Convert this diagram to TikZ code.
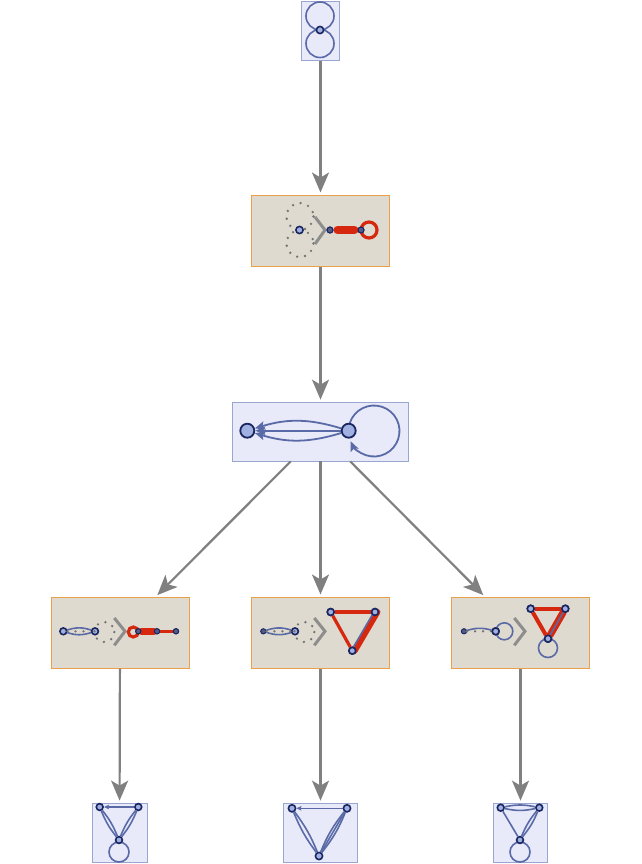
\documentclass[tikz,border=0pt]{standalone}
\usepackage{tikz}
\usetikzlibrary{arrows.meta}

\definecolor{paleblue}{HTML}{E8EAFA}
\definecolor{paleedge}{HTML}{9AA6D2}
\definecolor{sand}{HTML}{DEDACF}
\definecolor{sandedge}{HTML}{E8A04C}
\definecolor{wireblue}{HTML}{5A6AA6}
\definecolor{vtxfill}{HTML}{A0B0E0}
\definecolor{vtxedge}{HTML}{1A2660}
\definecolor{cutred}{HTML}{D6280F}
\definecolor{flowgray}{HTML}{808080}

\tikzset{
	graphbox/.style={rectangle, draw=paleedge, fill=paleblue, line width=0.4pt, inner sep=0pt, minimum height=29.5pt},
	cutbox/.style={rectangle, draw=sandedge, fill=sand, line width=0.5pt, inner sep=0pt, minimum width=69pt, minimum height=35.5pt},
	flow/.style={draw=flowgray, line width=1.1pt, shorten >=1pt, -{Stealth[length=10pt, width=8.5pt, inset=2.5pt]}},
	vtx/.style={circle, draw=vtxedge, fill=vtxfill, line width=0.8pt, inner sep=0pt, minimum size=3.4pt},
	bigvtx/.style={vtx, line width=0.9pt, minimum size=7pt},
	tinyvtx/.style={vtx, fill=vtxedge!75, line width=0.5pt, minimum size=2.6pt},
	wire/.style={draw=wireblue, line width=0.8pt},
	wirearrow/.style={wire, -{Stealth[length=2.5pt, width=2.2pt, inset=0.4pt]}},
	midarrow/.style={wire, line width=0.9pt, -{Stealth[length=5pt, width=4.2pt, inset=1pt]}},
	dotwire/.style={draw=black!55, line width=1.3pt, line cap=round, dash pattern=on 0pt off 4pt},
	redwire/.style={draw=cutred, line width=1.6pt},
	redbar/.style={draw=cutred, line width=3.5pt, line cap=round},
	chevron/.style={draw=flowgray!90, line width=1.5pt}
}

\begin{document}
\begin{tikzpicture}[x=0.5pt, y=-0.5pt]
	%%%%% START %%%%%
	\useasboundingbox (0, 0) rectangle (642, 864);
	
	% boxes
	\node[graphbox, minimum width=19pt] (startbox) at (320.5, 31) {};
	\node[cutbox] (stepbox) at (320.5, 230.5) {};
	\node[graphbox, minimum width=88pt] (midbox) at (320.5, 431.5) {};
	\node[cutbox] (leftcut) at (120, 632.5) {};
	\node[cutbox] (centercut) at (320.5, 632.5) {};
	\node[cutbox] (rightcut) at (520.5, 632.5) {};
	\node[graphbox, minimum width=27.5pt] (leftend) at (119.5, 832.5) {};
	\node[graphbox, minimum width=37pt] (centerend) at (320.5, 832.5) {};
	\node[graphbox, minimum width=27pt] (rightend) at (520.5, 832.5) {};
	
	% flow
	\draw[flow] (startbox) -- (stepbox);
	\draw[flow] (stepbox) -- (midbox);
	\draw[flow] (midbox) -- (leftcut);
	\draw[flow] (midbox) -- (centercut);
	\draw[flow] (midbox) -- (rightcut);
	\draw[flow] (leftcut) -- (leftend);
	\draw[flow] (centercut) -- (centerend);
	\draw[flow] (rightcut) -- (rightend);
	
	% start graph
	\draw[wire] (320, 16) circle (14);
	\draw[wire] (320, 43.5) circle (14);
	\node[vtx, minimum size=3.6pt] (sv) at (320, 30) {};
	
	% step box
	\draw[dotwire] (300, 216.5) circle (13.5);
	\draw[dotwire] (300, 243.5) circle (13.5);
	\node[vtx, minimum size=3.6pt] (av) at (299.5, 230) {};
	\draw[chevron] (315, 217) -- (325, 230) -- (315, 244);
	\node[tinyvtx, minimum size=3pt] (bv) at (330, 230) {};
	\node[tinyvtx, minimum size=3pt] (cv) at (361, 230) {};
	\draw[redbar, line width=4pt] (bv.east) ++(4, 0) -- ++(17, 0);
	\draw[redwire] (369, 230) circle (8);
	\node[tinyvtx, minimum size=3pt] at (bv) {};
	\node[tinyvtx, minimum size=3pt] at (cv) {};
	
	% middle graph
	\draw[midarrow] (374, 431) ++(-161.6:25.5) arc (-161.6:156.5:25.5);
	\node[bigvtx] (mr) at (348.7, 430.7) {};
	\node[bigvtx] (ml) at (247.3, 430.7) {};
	\draw[midarrow] (mr) to[bend right=17] (ml);
	\draw[midarrow] (mr) -- (ml);
	\draw[midarrow] (mr) to[bend left=17] (ml);
	
	% left cut box
	\node[vtx] (la) at (63.3, 631.3) {};
	\node[vtx] (lb) at (95, 631.3) {};
	\draw[wire] (la) to[bend left=18] (lb);
	\draw[wire] (la) to[bend right=18] (lb);
	\draw[dotwire] (la) -- (lb);
	\draw[dotwire] (104.3, 632) circle (10);
	\draw[chevron] (114.3, 618) -- (125, 631.3) -- (114.3, 645.3);
	\draw[redwire] (133.3, 632) circle (5);
	\node[tinyvtx] (lc) at (138.3, 631.3) {};
	\node[tinyvtx] (ld) at (157, 631.3) {};
	\node[tinyvtx] (le) at (176, 631.3) {};
	\draw[redbar] (lc) -- (ld);
	\draw[redwire] (ld) -- (le);
	\node[tinyvtx] at (lc) {};
	\node[tinyvtx] at (ld) {};
	\node[tinyvtx] at (le) {};
	
	% center cut box
	\node[tinyvtx] (ca) at (263.3, 631.3) {};
	\node[vtx] (cb) at (295, 631.3) {};
	\draw[wire] (ca) to[bend left=18] (cb);
	\draw[wire] (ca) to[bend right=18] (cb);
	\draw[dotwire] (ca) -- (cb);
	\draw[dotwire] (304.3, 632) circle (10);
	\draw[chevron] (314.3, 618) -- (325, 631.3) -- (314.3, 645.3);
	\node[vtx] (cc) at (330.7, 612) {};
	\node[vtx] (cd) at (375, 612) {};
	\node[vtx] (ce) at (352.3, 650.7) {};
	\draw[redwire] (cc) -- (cd);
	\draw[redwire] (cc) -- (ce);
	\draw[redbar, line width=3pt] ([xshift=1.2pt]ce.center) -- ([xshift=1.2pt]cd.center);
	\draw[wire] ([xshift=-0.5pt]ce.center) -- ([xshift=-0.5pt]cd.center);
	\node[vtx] at (cc) {};
	\node[vtx] at (cd) {};
	\node[vtx] at (ce) {};
	
	% right cut box
	\node[tinyvtx] (ra) at (464, 631.3) {};
	\node[vtx] (rb) at (495.7, 631.3) {};
	\draw[wire] (ra) to[bend left=16] (rb);
	\draw[dotwire] (ra) -- (rb);
	\draw[wire] (504.3, 631.3) circle (8.5);
	\node[vtx] at (rb) {};
	\draw[chevron] (514.3, 618) -- (525, 631.3) -- (514.3, 645.3);
	\draw[wire] (548, 648) circle (9.5);
	\node[vtx] (rc) at (530.7, 608.7) {};
	\node[vtx] (rd) at (565.3, 608.7) {};
	\node[vtx] (re) at (548, 638.7) {};
	\draw[redwire, line width=2pt] (rc) -- (rd);
	\draw[redwire, line width=2pt] (rc) -- (re);
	\draw[redbar] (re) -- (rd);
	\draw[wire] (re) -- (rd);
	\node[vtx] at (rc) {};
	\node[vtx] at (rd) {};
	\node[vtx] at (re) {};
	
	% left end graph
	\draw[wire] (119, 852) circle (10);
	\node[vtx] (ea) at (99.7, 807) {};
	\node[vtx] (eb) at (138.3, 807) {};
	\node[vtx] (ec) at (119, 840) {};
	\draw[wirearrow] (eb) -- (ea);
	\draw[wire] (ec) to[bend left=8] (ea);
	\draw[wire] (ec) to[bend right=8] (ea);
	\draw[wire] (ec) to[bend left=8] (eb);
	\draw[wire] (ec) to[bend right=8] (eb);
	
	% center end graph
	\node[vtx, minimum size=3.6pt] (fa) at (292, 808.3) {};
	\node[vtx, minimum size=3.6pt] (fb) at (347, 808.3) {};
	\node[vtx, minimum size=3.6pt] (fc) at (319, 856) {};
	\draw[wirearrow] (fb) -- (fa);
	\draw[wire] (fc) to[bend left=7] (fa);
	\draw[wire] (fc) to[bend right=7] (fa);
	\draw[wire] (fc) to[bend left=8] (fb);
	\draw[wire] (fc) -- (fb);
	\draw[wire] (fc) to[bend right=8] (fb);
	
	% right end graph
	\draw[wire] (520, 852) circle (10);
	\node[vtx] (ga) at (500.7, 807.7) {};
	\node[vtx] (gb) at (539.3, 807.7) {};
	\node[vtx] (gc) at (520, 840) {};
	\draw[wire] (gb) to[bend left=12] (ga);
	\draw[wire] (gb) to[bend right=12] (ga);
	\draw[wire] (gc) -- (ga);
	\draw[wire] (gc) to[bend left=8] (gb);
	\draw[wire] (gc) to[bend right=8] (gb);
	
	%%%%% END %%%%%
\end{tikzpicture}
\end{document}
